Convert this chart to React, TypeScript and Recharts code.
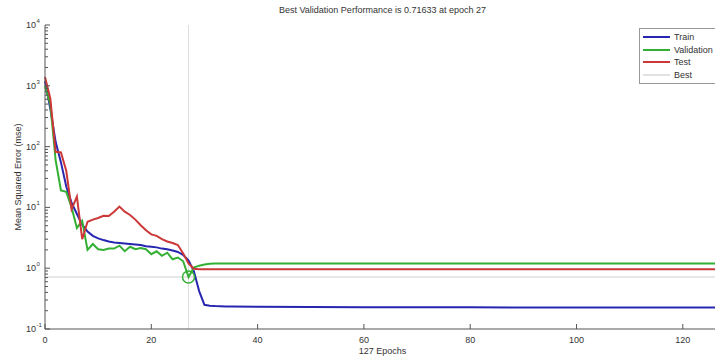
import React from "react";
import {
  LineChart,
  Line,
  XAxis,
  YAxis,
  ReferenceLine,
  ReferenceDot,
  Legend,
} from "recharts";

const epochs = [
  0, 1, 2, 3, 4, 5, 6, 7, 8, 9, 10, 11, 12, 13, 14, 15, 16, 17, 18, 19, 20,
  21, 22, 23, 24, 25, 26, 27, 28, 29, 30, 31, 32, 33, 34, 35, 40, 50, 60, 70,
  80, 90, 100, 110, 120, 127,
];

const train = [
  1200, 420, 120, 55, 22, 12, 7.8, 5.2, 4.0, 3.4, 3.1, 2.9, 2.75, 2.65, 2.6,
  2.55, 2.5, 2.45, 2.4, 2.3, 2.25, 2.2, 2.1, 2.05, 1.95, 1.85, 1.65, 1.35, 0.9,
  0.42, 0.25, 0.242, 0.238, 0.236, 0.235, 0.234, 0.232, 0.229, 0.228, 0.227,
  0.227, 0.226, 0.226, 0.226, 0.226, 0.226,
];

const validation = [
  1000, 500, 60, 19, 18, 10, 4.6, 6.0, 2.0, 2.5, 2.05, 2.0, 2.1, 2.1, 2.35,
  1.9, 2.25, 2.05, 2.15, 2.05, 1.7, 1.9, 1.6, 1.8, 1.4, 1.5, 1.3, 0.71633,
  1.02, 1.1, 1.15, 1.18, 1.19, 1.2, 1.2, 1.2, 1.2, 1.2, 1.2, 1.2, 1.2, 1.2,
  1.2, 1.2, 1.2, 1.2,
];

const test = [
  1400, 620, 82, 80, 40, 9.3, 15, 3.0, 5.8, 6.3, 6.7, 7.3, 7.2, 8.5, 10.3, 8.5,
  7.5, 6.3, 5.1, 4.2, 3.6, 3.4, 3.0, 2.75, 2.6, 2.4, 1.75, 1.2, 0.98, 0.96,
  0.96, 0.96, 0.96, 0.96, 0.96, 0.96, 0.96, 0.96, 0.96, 0.96, 0.96, 0.96, 0.96,
  0.96, 0.96, 0.96,
];

const bestEpoch = 27;
const bestPerf = 0.71633;

const xTicks = [0, 20, 40, 60, 80, 100, 120];
const yMajor = [0.1, 1, 10, 100, 1000, 10000];
const yTicks = [
  0.1, 0.2, 0.3, 0.4, 0.5, 0.6, 0.7, 0.8, 0.9, 1, 2, 3, 4, 5, 6, 7, 8, 9, 10,
  20, 30, 40, 50, 60, 70, 80, 90, 100, 200, 300, 400, 500, 600, 700, 800, 900,
  1000, 2000, 3000, 4000, 5000, 6000, 7000, 8000, 9000, 10000,
];

const series = [
  { key: "train", name: "Train", color: "#2626b0" },
  { key: "validation", name: "Validation", color: "#33b033" },
  { key: "test", name: "Test", color: "#cc3838" },
];

const data = epochs.map((e, i) => ({
  epoch: e,
  train: train[i],
  validation: validation[i],
  test: test[i],
}));

const axisColor = "#555";
const textColor = "#333";

function YTick({ x, y, payload }: any) {
  const v = payload.value;
  const major = yMajor.some((m) => Math.abs(m - v) < 1e-9);
  const exp = Math.round(Math.log10(v));
  return (
    <g>
      <line x1={x} x2={x + (major ? 5 : 3)} y1={y} y2={y} stroke={axisColor} />
      {major && (
        <text x={x - 9} y={y + 3} textAnchor="end" fontSize={9} fill={textColor}>
          10
        </text>
      )}
      {major && (
        <text x={x - 8.5} y={y - 2} textAnchor="start" fontSize={6} fill={textColor}>
          {exp}
        </text>
      )}
    </g>
  );
}

function XTick({ x, y, payload }: any) {
  return (
    <g>
      <line x1={x} x2={x} y1={y} y2={y - 5} stroke={axisColor} />
      <text x={x} y={y + 14} textAnchor="middle" fontSize={9} fill={textColor}>
        {payload.value}
      </text>
    </g>
  );
}

function LegendBox() {
  const rows = [...series, { key: "best", name: "Best", color: "#e2e2e2" }];
  return (
    <div
      style={{
        background: "#fff",
        border: "1px solid #999",
        padding: "2px 40px 2px 3px",
        fontSize: 9,
        color: textColor,
        lineHeight: "12.5px",
      }}
    >
      {rows.map((r) => (
        <div key={r.key} style={{ display: "flex", alignItems: "center" }}>
          <span
            style={{
              display: "inline-block",
              width: 27,
              height: 0,
              borderTop: `2px solid ${r.color}`,
              marginRight: 4,
            }}
          />
          {r.name}
        </div>
      ))}
    </div>
  );
}

export default function App() {
  return (
    <div
      style={{
        position: "absolute",
        left: 0,
        top: 0,
        width: 715,
        height: 359,
        overflow: "hidden",
        background: "#fff",
        fontFamily: "'Liberation Sans', Arial, sans-serif",
      }}
    >
      <div
        style={{
          position: "absolute",
          top: 5,
          left: 0,
          width: 765,
          textAlign: "center",
          fontSize: 9,
          color: textColor,
        }}
      >
        Best Validation Performance is {bestPerf} at epoch {bestEpoch}
      </div>
      <LineChart
        width={720}
        height={359}
        data={data}
        margin={{ top: 25, right: 0, bottom: 0, left: 0 }}
      >
        <XAxis
          dataKey="epoch"
          type="number"
          domain={[0, 127]}
          ticks={xTicks}
          interval={0}
          height={30}
          stroke={axisColor}
          tickSize={0}
          tickMargin={0}
          tick={<XTick />}
          label={{
            value: "127 Epochs",
            position: "insideBottom",
            offset: 5,
            fontSize: 9,
            fill: textColor,
          }}
        />
        <YAxis
          scale="log"
          domain={[0.1, 10000]}
          ticks={yTicks}
          interval={0}
          allowDataOverflow
          width={45}
          stroke={axisColor}
          tickSize={0}
          tickMargin={0}
          tick={<YTick />}
          label={{
            value: "Mean Squared Error  (mse)",
            angle: -90,
            position: "center",
            dx: -5,
            fontSize: 9,
            fill: textColor,
          }}
        />
        <ReferenceLine x={bestEpoch} stroke="#dedede" strokeWidth={1} />
        <ReferenceLine y={bestPerf} stroke="#cfcfcf" strokeWidth={1} />
        {series.map((s) => (
          <Line
            key={s.key}
            dataKey={s.key}
            name={s.name}
            type="linear"
            stroke={s.color}
            strokeWidth={2}
            dot={false}
            isAnimationActive={false}
          />
        ))}
        <ReferenceDot
          x={bestEpoch}
          y={bestPerf}
          r={6}
          fill="none"
          stroke="#33b033"
          strokeWidth={1.5}
        />
        <Legend
          layout="vertical"
          align="center"
          verticalAlign="middle"
          wrapperStyle={{ position: "absolute", top: 28, left: 639, width: "auto" }}
          content={() => <LegendBox />}
        />
      </LineChart>
    </div>
  );
}
